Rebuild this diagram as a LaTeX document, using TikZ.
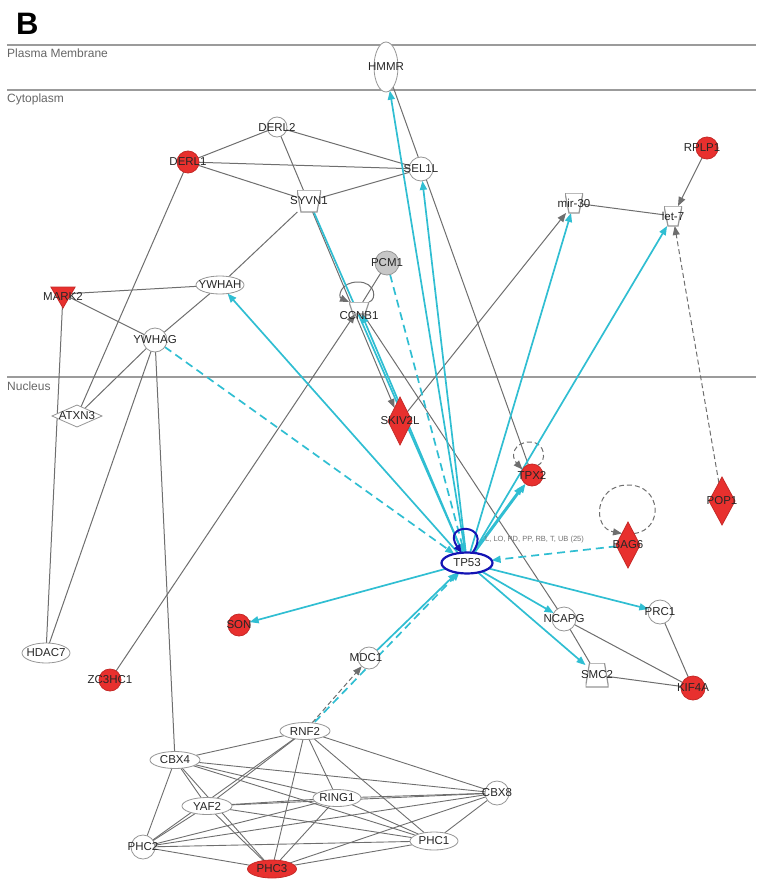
\documentclass[tikz,border=0pt]{standalone}
\usepackage{fontspec}
\setmainfont{Liberation Sans}
\usetikzlibrary{shapes.geometric,arrows.meta,backgrounds}
\definecolor{cyanc}{RGB}{48,190,210}
\definecolor{redn}{RGB}{232,48,46}
\definecolor{nborder}{RGB}{150,150,150}
\definecolor{gline}{RGB}{110,110,110}
\definecolor{regc}{RGB}{155,155,155}
\definecolor{tpblue}{RGB}{20,20,180}
\newcommand\labfont{\fontsize{11.5}{11.5}\selectfont}
\tikzset{
  every label/.style={font=\labfont, text=black!85, inner sep=0pt},
  gn/.style={draw=nborder, line width=0.8pt, fill=white, inner sep=0pt, outer sep=0pt},
  rn/.style={draw=redn!85!black, fill=redn},
  circn/.style={gn, circle, minimum size=#1},
  elln/.style 2 args={gn, ellipse, minimum width=#1, minimum height=#2},
  dian/.style 2 args={gn, diamond, minimum width=#1, minimum height=#2},
  traptop/.style 2 args={rectangle, inner sep=0pt, outer sep=0pt, minimum width=#1, minimum height=#2,
     path picture={\filldraw[draw=nborder, fill=white, line width=1.2pt]
       (path picture bounding box.north west) -- (path picture bounding box.north east)
       -- ([xshift=-4pt]path picture bounding box.south east) -- ([xshift=4pt]path picture bounding box.south west) -- cycle;}},
  trapbot/.style 2 args={rectangle, inner sep=0pt, outer sep=0pt, minimum width=#1, minimum height=#2,
     path picture={\filldraw[draw=nborder, fill=white, line width=1.2pt]
       ([xshift=4pt]path picture bounding box.north west) -- ([xshift=-4pt]path picture bounding box.north east)
       -- (path picture bounding box.south east) -- (path picture bounding box.south west) -- cycle;}},
  gedge/.style={draw=gline, line width=1pt},
  cedge/.style={draw=cyanc, line width=1.7pt},
  cdash/.style={dash pattern=on 8pt off 5pt},
  gdash/.style={dash pattern=on 5pt off 3pt},
  tri/.style={-{Triangle[length=9pt,width=7pt]}},
  regline/.style={draw=regc, line width=1.3pt},
  reglab/.style={font=\fontsize{12}{12}\selectfont, text=black!60, inner sep=0pt, anchor=west}
}
\begin{document}
\begin{tikzpicture}[x=1pt,y=-1pt]
\useasboundingbox (0,0) rectangle (756,880);
% title and regions
\node[font=\bfseries\fontsize{31}{31}\selectfont, anchor=base west, inner sep=0pt] (blab) at (16,35) {B};
\node[reglab] (pmlab) at (7,53) {Plasma Membrane};
\node[reglab] (cylab) at (7,99) {Cytoplasm};
\node[reglab] (nulab) at (7,386) {Nucleus};
\coordinate (l1a) at (7,45); \coordinate (l1b) at (756,45);
\coordinate (l2a) at (7,90); \coordinate (l2b) at (756,90);
\coordinate (l3a) at (7,377); \coordinate (l3b) at (756,377);

% nodes
\node[elln={24pt}{50pt}, label={center:HMMR}] (hmmr) at (386,67) {};
\node[circn=20pt, label={center:DERL2}] (derl2) at (277,127) {};
\node[circn=22pt, rn, label={center:DERL1}] (derl1) at (188,162) {};
\node[circn=24pt, label={center:SEL1L}] (sel1l) at (421,169) {};
\node[traptop={24pt}{22pt}, label={center:SYVN1}] (syvn1) at (309,201) {};
\node[circn=24pt, fill=black!22, label={center:PCM1}] (pcm1) at (387,263) {};
\node[traptop={20pt}{12pt}, label={[yshift=-8pt]center:CCNB1}] (ccnb1) at (359,308) {};
\node[traptop={18pt}{20pt}, label={center:mir-30}] (mir30) at (574,203) {};
\node[traptop={18pt}{20pt}, label={center:let-7}] (let7) at (673,216) {};
\node[circn=22pt, rn, label={[xshift=-5pt]center:RPLP1}] (rplp1) at (707,148) {};
\node[gn, rn, regular polygon, regular polygon sides=3, shape border rotate=180, minimum size=28pt, label={[yshift=-2pt]center:MARK2}] (mark2) at (63,294) {};
\node[elln={48pt}{18pt}, label={center:YWHAH}] (ywhah) at (220,285) {};
\node[circn=24pt, label={center:YWHAG}] (ywhag) at (155,340) {};
\node[dian={50pt}{22pt}, label={center:ATXN3}] (atxn3) at (77,416) {};
\node[dian={24pt}{48pt}, rn, label={center:SKIV2L}] (skiv2l) at (400,421) {};
\node[circn=22pt, rn, label={center:TPX2}] (tpx2) at (532,475) {};
\node[dian={26pt}{48pt}, rn, label={center:POP1}] (pop1) at (722,501) {};
\node[dian={24pt}{46pt}, rn, label={center:BAG6}] (bag6) at (628,545) {};
\node[elln={51pt}{21pt}, draw=tpblue, line width=2.2pt, label={center:TP53}] (tp53) at (467,563) {};
\node[font=\fontsize{7.5}{7.5}\selectfont, text=black!55, anchor=west, inner sep=0pt] (tplab) at (485,540) {L, LO, PD, PP, RB, T, UB (25)};
\node[circn=22pt, rn, label={center:SON}] (son) at (239,625) {};
\node[elln={48pt}{20pt}, label={center:HDAC7}] (hdac7) at (46,653) {};
\node[circn=22pt, rn, label={center:ZC3HC1}] (zc3hc1) at (110,680) {};
\node[circn=22pt, label={[xshift=-3pt]center:MDC1}] (mdc1) at (369,658) {};
\node[circn=24pt, label={center:NCAPG}] (ncapg) at (564,619) {};
\node[circn=24pt, label={center:PRC1}] (prc1) at (660,612) {};
\node[trapbot={23pt}{24pt}, label={center:SMC2}] (smc2) at (597,675) {};
\node[circn=24pt, rn, label={center:KIF4A}] (kif4a) at (693,688) {};
\node[elln={50pt}{17pt}, label={center:RNF2}] (rnf2) at (305,731) {};
\node[elln={50pt}{17pt}, label={center:CBX4}] (cbx4) at (175,760) {};
\node[elln={48pt}{17pt}, label={center:RING1}] (ring1) at (337,798) {};
\node[elln={50pt}{17pt}, label={center:YAF2}] (yaf2) at (207,806) {};
\node[circn=24pt, label={center:CBX8}] (cbx8) at (497,793) {};
\node[circn=24pt, label={center:PHC2}] (phc2) at (143,847) {};
\node[elln={48pt}{18pt}, label={center:PHC1}] (phc1) at (434,841) {};
\node[elln={49pt}{18pt}, rn, label={center:PHC3}] (phc3) at (272,869) {};

\begin{scope}[on background layer]
  \draw[regline] (l1a) -- (l1b);
  \draw[regline] (l2a) -- (l2b);
  \draw[regline] (l3a) -- (l3b);
  % gray undirected
  \foreach \a/\b in {derl2/derl1, derl2/sel1l, derl1/sel1l, derl1/syvn1, derl1/atxn3,
     syvn1/sel1l, syvn1/ywhah, hmmr/tpx2, mark2/ywhah, mark2/ywhag, mark2/hdac7,
     ywhah/ywhag, ywhag/atxn3, ywhag/hdac7, ywhag/cbx4, ccnb1/pcm1, ccnb1/ncapg,
     mir30/let7, ncapg/smc2, ncapg/kif4a, smc2/kif4a, prc1/kif4a}
     \draw[gedge] (\a) -- (\b);
  % bottom cluster
  \foreach \a/\b in {rnf2/cbx4, rnf2/ring1, rnf2/yaf2, rnf2/cbx8, rnf2/phc2, rnf2/phc1, rnf2/phc3,
     cbx4/ring1, cbx4/yaf2, cbx4/cbx8, cbx4/phc2, cbx4/phc1, cbx4/phc3,
     ring1/yaf2, ring1/cbx8, ring1/phc2, ring1/phc1, ring1/phc3,
     yaf2/cbx8, yaf2/phc2, yaf2/phc1, yaf2/phc3,
     cbx8/phc2, cbx8/phc1, cbx8/phc3, phc2/phc1, phc2/phc3, phc1/phc3}
     \draw[gedge, line width=0.9pt] (\a) -- (\b);
  % gray arrows
  \draw[gedge, tri] (derl2) -- (skiv2l);
  \draw[gedge, tri] (skiv2l) -- (mir30);
  \draw[gedge, tri] (rplp1) -- (let7);
  \draw[gedge, gdash, tri] (pop1) -- (let7);
  \draw[gedge, tri] (zc3hc1) -- (ccnb1);
  % self loops
  \draw[gedge, tri] (ccnb1.north east) .. controls (377,300) and (376,282) .. (358,282)
       .. controls (340,282) and (338,297) .. (ccnb1.north west);
  \draw[gedge, gdash, tri] (tpx2.60) .. controls (547,462) and (546,442) .. (530,442)
       .. controls (514,442) and (510,456) .. (tpx2.150);
  \draw[gedge, gdash, tri] (bag6.north east) .. controls (664,530) and (662,485) .. (628,485)
       .. controls (594,485) and (592,528) .. (bag6.north west);
  % cyan
  \foreach \t in {hmmr, sel1l, ywhah, ccnb1, mir30, let7, tpx2, son, ncapg, smc2, prc1}
     \draw[cedge, tri] (tp53) -- (\t);
  \draw[cedge, tri, transform canvas={xshift=-3pt, yshift=-2pt}] (tp53) -- (tpx2);
  \draw[cedge] (tp53) -- (syvn1);
  \draw[cedge, cdash, tri] (pcm1) -- (tp53);
  \draw[cedge, cdash, tri] (ywhag) -- (tp53);
  \draw[cedge, cdash, tri] (bag6) -- (tp53);
  \draw[cedge, tri] (mdc1) -- (tp53);
  \draw[cedge, cdash, tri, transform canvas={xshift=2pt, yshift=1pt}] (rnf2) -- (tp53);
  \draw[gedge, gdash, tri] (rnf2) -- (mdc1);
\end{scope}
% TP53 self loop
\draw[draw=tpblue, line width=2pt, -{Triangle[length=8pt,width=7pt]}] (tp53.62) .. controls (494,522) and (440,522) .. (tp53.118);
\end{tikzpicture}
\end{document}
